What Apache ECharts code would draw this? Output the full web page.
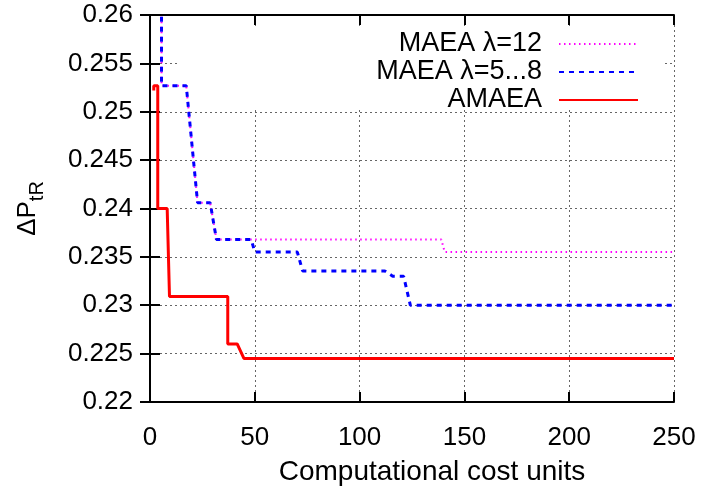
<!DOCTYPE html>
<html>
<head>
<meta charset="utf-8">
<script src="https://cdn.jsdelivr.net/npm/echarts@6/dist/echarts.min.js"></script>
<style>html,body{margin:0;padding:0;background:#fff}#c{width:704px;height:491px}</style>
</head>
<body>
<div id="c"></div>
<script>
var seriesNames = ['MAEA \u03bb=12', 'MAEA \u03bb=5...8', 'AMAEA'];
var maea12 = [[5.5,0.265],[5.5,0.2527],[17.3,0.2527],[22.7,0.2406],[28.7,0.2406],[31.7,0.2368],[139,0.2368],[140.6,0.2355],[250,0.2355]];
var maea58 = [[5.5,0.265],[5.5,0.2527],[17.3,0.2527],[22.7,0.2406],[28.7,0.2406],[31.7,0.2368],[48.3,0.2368],[50,0.2355],[70.3,0.2355],[72.8,0.23355],[112,0.23355],[115.8,0.2330],[121,0.2330],[124.2,0.2300],[250,0.2300]];
var amaea = [[1.8,0.2522],[1.8,0.2527],[3.7,0.2527],[3.7,0.2400],[8.2,0.2400],[9.3,0.2309],[37.1,0.2309],[37.1,0.2260],[41.6,0.2260],[44.8,0.2245],[250,0.2245]];
var xRange = [0, 250, 50];
var yRange = [0.22, 0.26, 0.005];
var xTitle = 'Computational cost units';

var FONT = 'Liberation Sans';
var FS = 26;
var chart = echarts.init(document.getElementById('c'), null, {renderer: 'canvas'});
var grid = {left: 150, right: 30, top: 15, bottom: 89};
var split = {show: true, lineStyle: {color: '#666', width: 1, type: [2, 3]}};
function yfmt(v){ return String(+(+v).toFixed(3)); }
chart.setOption({
  animation: false,
  backgroundColor: '#fff',
  grid: grid,
  textStyle: {fontFamily: FONT},
  legend: {
    orient: 'vertical', right: 60, top: 25, align: 'right', itemGap: 0, zlevel: 3,
    itemWidth: 79, itemHeight: 14,
    itemStyle: {opacity: 0},
    textStyle: {fontFamily: FONT, fontSize: 27, color: '#000', width: 180, align: 'right', lineHeight: 28, padding: [0, 12, 0, 0]},
    data: seriesNames
  },
  graphic: [{type: 'rect', zlevel: 1, z: 0, left: 178, top: 26, shape: {x: 0, y: 0, width: 484, height: 84}, style: {fill: '#ffffff'}}],
  xAxis: [{
    type: 'value', min: xRange[0], max: xRange[1], interval: xRange[2], zlevel: 0,
    name: xTitle, nameLocation: 'middle', nameGap: 56,
    nameTextStyle: {fontFamily: FONT, fontSize: 28, color: '#000', padding: [0, 0, 0, 40]},
    axisLine: {show: true, lineStyle: {color: '#000', width: 2}},
    axisTick: {show: true, inside: true, length: 10, lineStyle: {color: '#000', width: 2}},
    axisLabel: {fontFamily: FONT, fontSize: FS, color: '#000', margin: 23},
    splitLine: split
  }, {
    type: 'value', position: 'top', min: xRange[0], max: xRange[1], interval: xRange[2], zlevel: 0,
    axisLine: {show: true, lineStyle: {color: '#000', width: 2}},
    axisTick: {show: true, inside: true, length: 10, lineStyle: {color: '#000', width: 2}},
    axisLabel: {show: false}, splitLine: {show: false}
  }],
  yAxis: [{
    type: 'value', min: yRange[0], max: yRange[1], interval: yRange[2], zlevel: 0,
    name: '{a|\u0394P}{b|tR}', nameLocation: 'middle', nameGap: 109, nameRotate: 90,
    nameTextStyle: {fontFamily: FONT, fontSize: FS, color: '#000',
      rich: {a: {fontFamily: FONT, fontSize: 26, color: '#000', lineHeight: 26, verticalAlign: 'top'},
             b: {fontFamily: FONT, fontSize: 20, color: '#000', lineHeight: 26, verticalAlign: 'top', padding: [12, 0, 0, 0]}}},
    axisLine: {show: true, lineStyle: {color: '#000', width: 2}},
    axisTick: {show: true, inside: true, length: 10, lineStyle: {color: '#000', width: 2}},
    axisLabel: {fontFamily: FONT, fontSize: FS, color: '#000', margin: 17, formatter: yfmt},
    splitLine: split
  }, {
    type: 'value', position: 'right', min: yRange[0], max: yRange[1], interval: yRange[2], zlevel: 0,
    axisLine: {show: true, lineStyle: {color: '#000', width: 2}},
    axisTick: {show: true, inside: true, length: 10, lineStyle: {color: '#000', width: 2}},
    axisLabel: {show: false}, splitLine: {show: false}
  }],
  series: [
    {name: seriesNames[0], type: 'line', data: maea12, symbol: 'none', showSymbol: false, clip: true, zlevel: 2,
     itemStyle: {color: '#ff00ff'}, lineStyle: {color: '#ff00ff', width: 2, type: [1.5, 3.5]}},
    {name: seriesNames[1], type: 'line', data: maea58, symbol: 'none', showSymbol: false, clip: true, zlevel: 2,
     itemStyle: {color: '#0000ff'}, lineStyle: {color: '#0000ff', width: 3, type: [5, 5]}},
    {name: seriesNames[2], type: 'line', data: amaea, symbol: 'none', showSymbol: false, clip: true, zlevel: 2,
     itemStyle: {color: '#ff0000'}, lineStyle: {color: '#ff0000', width: 3, type: 'solid'}}
  ]
});
</script>
</body>
</html>
